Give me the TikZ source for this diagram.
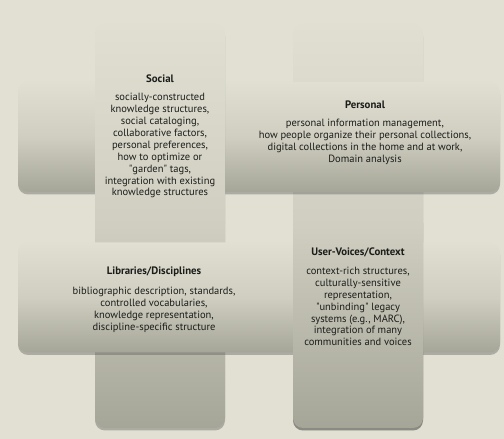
\documentclass[tikz,border=0pt]{standalone}
\usepackage{fontspec}
\setmainfont{PT Sans}
\usetikzlibrary{positioning,shadows}
\definecolor{backdrop}{HTML}{E2E0D3}
\definecolor{bartop}{HTML}{E0DFD2}
\definecolor{barmid}{HTML}{CFCEC1}
\definecolor{barbottom}{HTML}{A6A698}
\definecolor{inktext}{HTML}{1C1C1A}
\tikzset{
    bar/.style={rounded corners=10pt, inner sep=0pt, top color=bartop, bottom color=barbottom, middle color=barmid,
        drop shadow={shadow xshift=0pt, shadow yshift=-2.5pt, opacity=0.35, fill=black!70}},
    vbar/.style={bar, minimum width=130pt, minimum height=404pt},
    hbar/.style={bar, minimum width=482pt, minimum height=110pt},
    heading/.style={font=\bfseries\fontsize{10.8}{11.9}\selectfont, text=inktext, inner sep=0pt},
    blurb/.style={font=\fontsize{10.5}{11.9}\selectfont, text=inktext, align=center, inner sep=0pt}
}
\begin{document}
\begin{tikzpicture}[x=1pt,y=1pt]
        \fill[backdrop] (0,0) rectangle (504,439);
        \node[vbar] (personalbar) at (358,213) {};
        \node[hbar] (tophbar) at (259,302) {};
        \node[vbar] (socialbar) at (160,213) {};
        \node[hbar] (bottomhbar) at (259,141.5) {};
        \begin{scope}
            \clip (280,0) rectangle (440,215);
            \node[vbar] (contextbar) at (358,213) {};
        \end{scope}
        \node[heading] (socialhead) at (160,360) {Social};
        \node[blurb, below=10pt of socialhead] (socialtext) {socially-constructed\\knowledge structures,\\social cataloging,\\collaborative factors,\\personal preferences,\\how to optimize or\\\textquotedbl garden\textquotedbl{} tags,\\integration with existing\\knowledge structures};
        \node[heading] (personalhead) at (365,334) {Personal};
        \node[blurb, below=10pt of personalhead] (personaltext) {personal information management,\\how people organize their personal collections,\\digital collections in the home and at work,\\Domain analysis};
        \node[heading] (librarieshead) at (154,167) {Libraries/Disciplines};
        \node[blurb, below=10pt of librarieshead] (librariestext) {bibliographic description, standards,\\controlled vocabularies,\\knowledge representation,\\discipline-specific structure};
        \node[heading] (contexthead) at (358,187) {User-Voices/Context};
        \node[blurb, below=10pt of contexthead] (contexttext) {context-rich structures,\\culturally-sensitive\\representation,\\\textquotedbl unbinding\textquotedbl{} legacy\\systems (e.g., MARC),\\integration of many\\communities and voices};
        \useasboundingbox (0,0) rectangle (504,439);
\end{tikzpicture}
\end{document}
